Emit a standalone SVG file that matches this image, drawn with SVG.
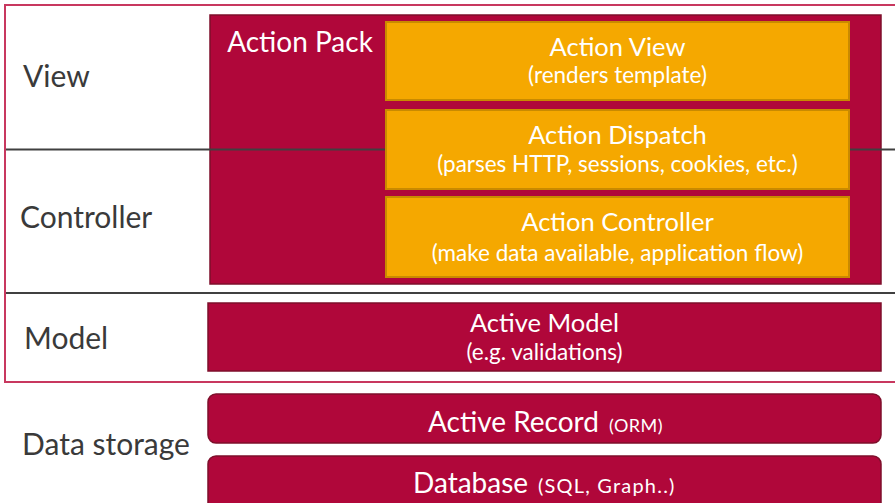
<svg xmlns="http://www.w3.org/2000/svg" width="895" height="503" viewBox="0 0 895 503">
  <style>
    .frame { fill: #ffffff; stroke: #c8385f; stroke-width: 2; }
    .divider { stroke: #404040; stroke-width: 2; }
    .pack { fill: #b0073a; stroke: #7e0f2b; stroke-width: 1.5; }
    .comp { fill: #f5a800; stroke: #c98a00; stroke-width: 2; }
    .layer { font-family: Lato, "Open Sans", sans-serif; font-size: 30px; fill: #3a3a3a; }
    .title { font-family: Lato, "Open Sans", sans-serif; font-size: 25.5px; fill: #ffffff; text-anchor: middle; }
    .sub { font-family: Lato, "Open Sans", sans-serif; font-size: 22.5px; fill: #ffffff; text-anchor: middle; }
    .big { font-size: 28px; }
    .store { font-family: Lato, "Open Sans", sans-serif; font-size: 28px; fill: #ffffff; }
    .small { font-size: 18px; }
  </style>

  <!-- MVC frame -->
  <rect class="frame" x="5" y="5" width="900" height="377"/>

  <!-- Action Pack container -->
  <g id="action-pack">
    <rect class="pack" x="210" y="15" width="671" height="269"/>
    <text class="title big" x="300" y="52">Action Pack</text>
  </g>

  <!-- layer dividers -->
  <g id="connectors">
    <line class="divider" x1="6" y1="149.5" x2="895" y2="149.5"/>
    <line class="divider" x1="6" y1="293" x2="895" y2="293"/>
  </g>

  <!-- layer labels -->
  <g id="layer-labels">
    <text class="layer" x="23" y="87">View</text>
    <text class="layer" x="20" y="228">Controller</text>
    <text class="layer" x="24" y="349">Model</text>
    <text class="layer" x="22" y="455">Data storage</text>
  </g>

  <g id="action-view">
    <rect class="comp" x="386" y="22" width="463" height="78"/>
    <text class="title" x="617.5" y="56">Action View</text>
    <text class="sub" x="617.5" y="83">(renders template)</text>
  </g>

  <g id="action-dispatch">
    <rect class="comp" x="386" y="110" width="463" height="79"/>
    <text class="title" x="617.5" y="144">Action Dispatch</text>
    <text class="sub" x="617.5" y="172">(parses HTTP, sessions, cookies, etc.)</text>
  </g>

  <g id="action-controller">
    <rect class="comp" x="386" y="197" width="463" height="80"/>
    <text class="title" x="617.5" y="231">Action Controller</text>
    <text class="sub" x="617.5" y="261">(make data available, application flow)</text>
  </g>

  <g id="active-model">
    <rect class="pack" x="208" y="303" width="673" height="68"/>
    <text class="title" x="544.5" y="332">Active Model</text>
    <text class="sub" x="544.5" y="360">(e.g. validations)</text>
  </g>

  <g id="active-record">
    <rect class="pack" x="208" y="394" width="673" height="49" rx="8"/>
    <text class="store" x="428" y="432">Active Record <tspan class="small" x="609" letter-spacing="0.5">(ORM)</tspan></text>
  </g>

  <g id="database">
    <rect class="pack" x="208" y="456" width="673" height="60" rx="8"/>
    <text class="store" x="413" y="493">Database <tspan x="538" font-size="20" letter-spacing="1.2">(SQL, Graph..)</tspan></text>
  </g>
</svg>
